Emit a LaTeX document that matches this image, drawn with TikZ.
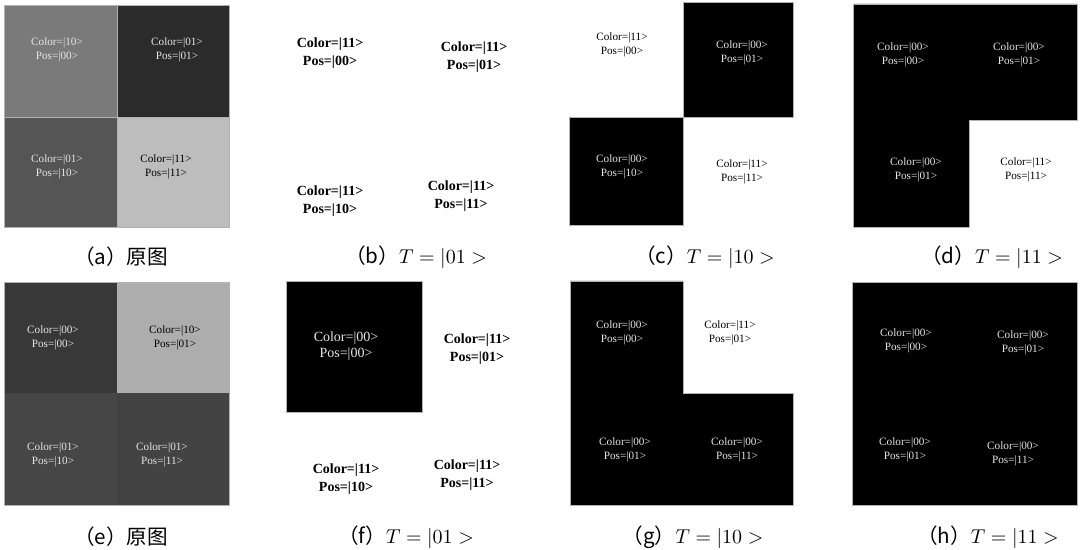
\documentclass[tikz,border=0pt]{standalone}
\usepackage{fontspec}
\newfontfamily\cellfont{Liberation Serif}
\newfontfamily\cjk{Noto Sans CJK SC}
\usetikzlibrary{positioning}
\definecolor{qGreyA}{HTML}{7A7A7A}
\definecolor{qGreyB}{HTML}{2B2B2B}
\definecolor{qGreyC}{HTML}{555555}
\definecolor{qGreyD}{HTML}{BDBDBD}
\definecolor{qGreyE}{HTML}{383838}
\definecolor{qGreyF}{HTML}{ADADAD}
\definecolor{qGreyG}{HTML}{464646}
\definecolor{qGreyH}{HTML}{434343}
\definecolor{qText}{HTML}{E6E6E6}
\newcommand{\qlabel}[2]{Color=|#1>\\Pos=|#2>}
\tikzset{
  % one pixel of the reference is half a point, y runs downwards
  every picture/.append style = {x=0.5pt, y=-0.5pt},
  cell/.style     = {align=center, inner sep=0pt, font=\cellfont\fontsize{5.6}{7}\selectfont},
  cellW/.style    = {cell, qText},
  cellK/.style    = {cell, black},
  cellbig/.style  = {align=center, inner sep=0pt, font=\cellfont\bfseries\fontsize{7}{8.8}\selectfont},
  cellbigW/.style = {align=center, inner sep=0pt, qText, font=\cellfont\fontsize{7}{8.3}\selectfont},
  block/.style    = {draw=gray!60, line width=0.3pt},
  subcap/.style   = {inner sep=0pt, font=\fontsize{10.3}{12}\selectfont},
}

\begin{document}
\begin{tikzpicture}
  \useasboundingbox (0,0) rectangle (1080,550);
  % (a) original image
  \fill[block, fill=qGreyA] (4,5) rectangle (117,117);
  \fill[block, fill=qGreyB] (117,5) rectangle (229,117);
  \fill[block, fill=qGreyC] (4,117) rectangle (117,227);
  \fill[block, fill=qGreyD] (117,117) rectangle (229,227);
  \node[cellW] (a1) at (57,50)   {\qlabel{10}{00}};
  \node[cellW] (a2) at (177,50)  {\qlabel{01}{01}};
  \node[cellW] (a3) at (57,167)  {\qlabel{01}{10}};
  \node[cellK] (a4) at (166,167) {\qlabel{11}{11}};
  \node[subcap] (capa) at (121,257) {\cjk（a）原图};
  % (b) T=|01>
  \node[cellbig] (b1) at (330,53)  {\qlabel{11}{00}};
  \node[cellbig] (b2) at (474,57)  {\qlabel{11}{01}};
  \node[cellbig] (b3) at (330,201) {\qlabel{11}{10}};
  \node[cellbig] (b4) at (461,196) {\qlabel{11}{11}};
  \node[subcap] (capb) at (416,257) {{\cjk（b）}$T=|01>$};
  % (c) T=|10>
  \fill[block, fill=black] (683,2) rectangle (793,117);
  \fill[block, fill=black] (569,117) rectangle (683,225);
  \node[cellK] (c1) at (622,45)  {\qlabel{11}{00}};
  \node[cellW] (c2) at (742,53)  {\qlabel{00}{01}};
  \node[cellW] (c3) at (622,167) {\qlabel{00}{10}};
  \node[cellK] (c4) at (742,172) {\qlabel{11}{11}};
  \node[subcap] (capc) at (705,257) {{\cjk（c）}$T=|10>$};
  % (d) T=|11>
  \fill[block, fill=black] (853,4) -- (1077,4) -- (1077,120) -- (969,120)
                           -- (969,227) -- (853,227) -- cycle;
  \node[cellW] (d1) at (903,55)   {\qlabel{00}{00}};
  \node[cellW] (d2) at (1019,55)  {\qlabel{00}{01}};
  \node[cellW] (d3) at (916,170)  {\qlabel{00}{01}};
  \node[cellK] (d4) at (1026,170) {\qlabel{11}{11}};
  \node[subcap] (capd) at (992,257) {{\cjk（d）}$T=|11>$};
  % (e) original image
  \fill[block, fill=qGreyE] (4,282) rectangle (117,393);
  \fill[block, fill=qGreyF] (117,282) rectangle (229,393);
  \fill[fill=qGreyG] (4,393) rectangle (117,505);
  \fill[fill=qGreyH] (117,393) rectangle (229,505);
  \draw[draw=gray!60, line width=0.3pt] (4,282) rectangle (229,505);
  \node[cellW] (e1) at (53,338)  {\qlabel{00}{00}};
  \node[cellK] (e2) at (175,338) {\qlabel{10}{01}};
  \node[cellW] (e3) at (53,455)  {\qlabel{01}{10}};
  \node[cellW] (e4) at (162,455) {\qlabel{01}{11}};
  \node[subcap] (cape) at (121,537) {\cjk（e）原图};
  % (f) T=|01>
  \fill[block, fill=black] (286,281) rectangle (422,412);
  \node[cellbigW] (f1) at (346,346) {\qlabel{00}{00}};
  \node[cellbig]  (f2) at (477,349) {\qlabel{11}{01}};
  \node[cellbig]  (f3) at (346,479) {\qlabel{11}{10}};
  \node[cellbig]  (f4) at (467,475) {\qlabel{11}{11}};
  \node[subcap] (capf) at (406,537) {{\cjk（f）}$T=|01>$};
  % (g) T=|10>
  \fill[block, fill=black] (570,281) -- (683,281) -- (683,393) -- (793,393)
                           -- (793,505) -- (570,505) -- cycle;
  \node[cellW] (g1) at (622,333) {\qlabel{00}{00}};
  \node[cellK] (g2) at (730,333) {\qlabel{11}{01}};
  \node[cellW] (g3) at (625,450) {\qlabel{00}{01}};
  \node[cellW] (g4) at (737,450) {\qlabel{00}{11}};
  \node[subcap] (capg) at (693,537) {{\cjk（g）}$T=|10>$};
  % (h) T=|11>
  \fill[block, fill=black] (852,282) rectangle (1077,505);
  \node[cellW] (h1) at (906,341)  {\qlabel{00}{00}};
  \node[cellW] (h2) at (1023,343) {\qlabel{00}{01}};
  \node[cellW] (h3) at (905,450)  {\qlabel{00}{01}};
  \node[cellW] (h4) at (1013,454) {\qlabel{00}{11}};
  \node[subcap] (caph) at (988,537) {{\cjk（h）}$T=|11>$};
\end{tikzpicture}
\end{document}
